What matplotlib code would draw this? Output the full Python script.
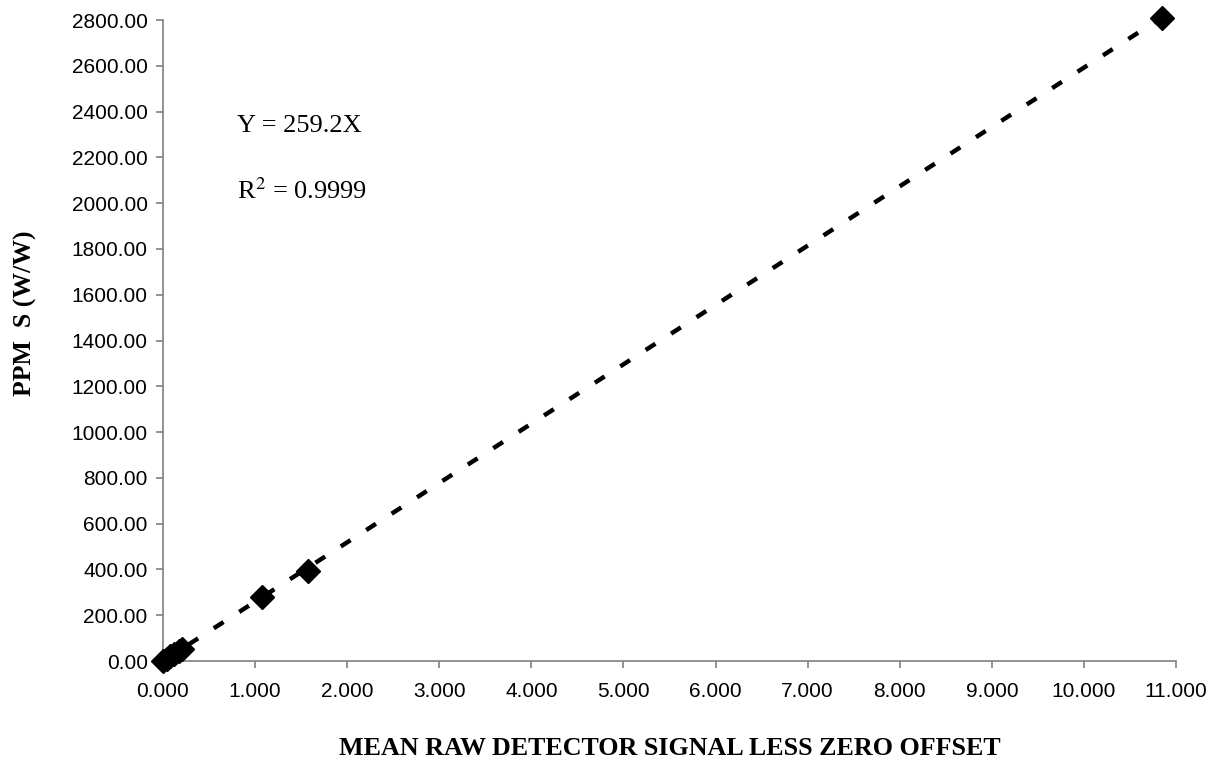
import matplotlib
matplotlib.use("Agg")
import matplotlib.pyplot as plt
import numpy as np
from matplotlib.ticker import FormatStrFormatter, MultipleLocator

x_signal = [0.0, 0.04, 0.08, 0.12, 0.17, 0.21, 1.08, 1.57, 10.85]
y_ppm = [0.0, 10.0, 21.0, 31.0, 44.0, 52.0, 278.0, 392.0, 2810.0]
slope = 259.2
r2_text = "0.9999"

fig = plt.figure(figsize=(12.1, 7.59), dpi=100)
ax = fig.add_axes([0.1347, 0.1291, 0.8372, 0.8445])

xfit = np.array([0.0, max(x_signal)])
ax.plot(xfit, slope * xfit, color="black", lw=3.2, dashes=(2.6, 4.2), zorder=2)
ax.plot(x_signal, y_ppm, linestyle="none", marker="D", color="black",
        markersize=12.5, zorder=3, clip_on=False)

ax.set_xlim(0, 11)
ax.set_ylim(0, 2800)
ax.xaxis.set_major_locator(MultipleLocator(1))
ax.yaxis.set_major_locator(MultipleLocator(200))
ax.xaxis.set_major_formatter(FormatStrFormatter("%.3f"))
ax.yaxis.set_major_formatter(FormatStrFormatter("%.2f"))

for s in ["top", "right"]:
    ax.spines[s].set_visible(False)
for s in ["left", "bottom"]:
    ax.spines[s].set_color("#808080")
    ax.spines[s].set_linewidth(1.2)
ax.tick_params(axis="both", direction="out", length=5, width=1.2, color="#808080",
               labelsize=15, labelcolor="black")
ax.tick_params(axis="x", pad=10)
ax.tick_params(axis="y", pad=6)
for lab in ax.get_xticklabels() + ax.get_yticklabels():
    lab.set_family("Liberation Sans")

ax.set_xlabel("MEAN RAW DETECTOR SIGNAL LESS ZERO OFFSET", family="Liberation Serif",
              fontweight="bold", fontsize=18.7)
ax.xaxis.set_label_coords(0.5, -0.118)
ax.set_ylabel("PPM  S (W/W)", family="Liberation Serif", fontweight="bold",
              fontsize=18.5)
ax.yaxis.set_label_coords(-0.124, 0.543)

ax.text(0.8, 2335, "Y = 259.2X", family="Liberation Serif", fontsize=19,
        ha="left", va="center")
ax.text(0.8, 2055, "R$^2$ = " + r2_text, family="Liberation Serif", fontsize=19,
        ha="left", va="center", math_fontfamily="stix")

fig.savefig("out.png", dpi=100)
